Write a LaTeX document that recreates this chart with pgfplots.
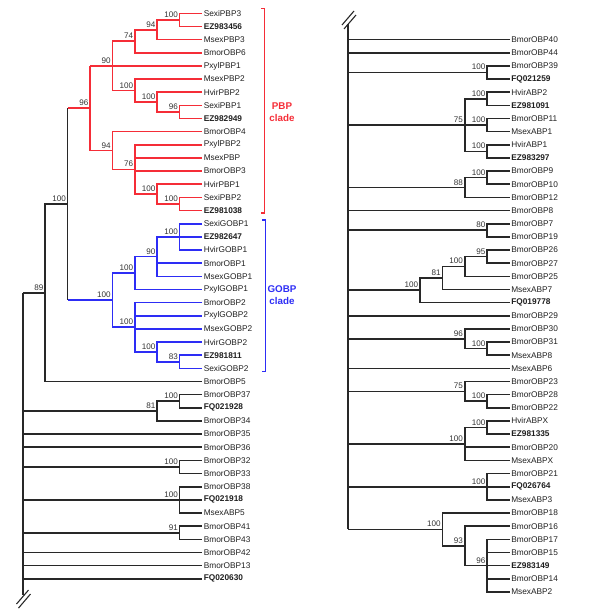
\documentclass[border=0pt]{standalone}
\usepackage{fontspec}
\setmainfont{Liberation Sans}
\usepackage{pgfplots}
\pgfplotsset{compat=1.18}
\definecolor{pbp}{RGB}{245,45,55}
\definecolor{gobp}{RGB}{45,45,245}
\definecolor{lk}{RGB}{40,40,40}
\tikzset{
  rd/.style={pbp, line width=1.6bp},
  bl/.style={gobp, line width=1.6bp},
  bk/.style={lk, line width=1.6bp},
  leaf/.style={anchor=west, inner sep=0pt, xshift=1.6bp, text=black!88, font=\fontsize{8.3bp}{9bp}\selectfont},
  sup/.style={anchor=south east, inner sep=0pt, xshift=-1.5bp, yshift=2.2bp, text=black!80, font=\fontsize{8.1bp}{9bp}\selectfont},
}
\newcommand{\lfL}[2]{\node[leaf] at (axis cs:202,#1) {#2};}
\newcommand{\lfR}[2]{\node[leaf] at (axis cs:509.5,#1) {#2};}
\newcommand{\bs}[3]{\node[sup] at (axis cs:#1,#2) {#3};}
\begin{document}
\begin{tikzpicture}
\begin{axis}[scale only axis, width=600bp, height=614bp,
  xmin=0, xmax=600, ymin=-0.0114, ymax=46.68, y dir=reverse,
  hide axis, clip=false, no markers]
\addplot[draw=none] coordinates {(0,-0.0114)(600,46.68)};
% ---------- PBP clade (red)
\addplot[rd] coordinates {(202,1)(179.6,1)(179.6,2)(202,2)};
\addplot[rd] coordinates {(179.6,1.5)(157.2,1.5)(157.2,3)(202,3)};
\addplot[rd] coordinates {(157.2,2.25)(134.8,2.25)(134.8,4)(202,4)};
\addplot[rd] coordinates {(134.8,3.125)(112.4,3.125)(112.4,6.875)(134.8,6.875)};
\addplot[rd] coordinates {(90,5)(202,5)};
\addplot[rd] coordinates {(202,8)(179.6,8)(179.6,9)(202,9)};
\addplot[rd] coordinates {(202,7)(157.2,7)(157.2,8.5)(179.6,8.5)};
\addplot[rd] coordinates {(202,6)(134.8,6)(134.8,7.75)(157.2,7.75)};
\addplot[rd] coordinates {(90,5)(90,11.4375)(112.4,11.4375)};
\addplot[rd] coordinates {(202,10)(112.4,10)(112.4,12.875)(134.8,12.875)};
\addplot[rd] coordinates {(202,11)(134.8,11)(134.8,14.75)(157.2,14.75)};
\addplot[rd] coordinates {(134.8,12)(202,12)};
\addplot[rd] coordinates {(134.8,13)(202,13)};
\addplot[rd] coordinates {(202,14)(157.2,14)(157.2,15.5)(179.6,15.5)};
\addplot[rd] coordinates {(202,15)(179.6,15)(179.6,16)(202,16)};
\addplot[rd] coordinates {(67.6,8.21875)(90,8.21875)};
% ---------- GOBP clade (blue)
\addplot[bl] coordinates {(202,17)(179.6,17)(179.6,19)(202,19)};
\addplot[bl] coordinates {(179.6,18)(202,18)};
\addplot[bl] coordinates {(179.6,18)(157.2,18)(157.2,21)(202,21)};
\addplot[bl] coordinates {(157.2,20)(202,20)};
\addplot[bl] coordinates {(157.2,19.5)(134.8,19.5)(134.8,22)(202,22)};
\addplot[bl] coordinates {(202,27)(179.6,27)(179.6,28)(202,28)};
\addplot[bl] coordinates {(202,26)(157.2,26)(157.2,27.5)(179.6,27.5)};
\addplot[bl] coordinates {(202,23)(134.8,23)(134.8,26.75)(157.2,26.75)};
\addplot[bl] coordinates {(134.8,24)(202,24)};
\addplot[bl] coordinates {(134.8,25)(202,25)};
\addplot[bl] coordinates {(134.8,20.75)(112.4,20.75)(112.4,24.875)(134.8,24.875)};
\addplot[bl] coordinates {(67.6,22.8125)(112.4,22.8125)};
% ---------- left black
\addplot[bk] coordinates {(67.6,8.21875)(67.6,22.8125)};
\addplot[bk] coordinates {(67.6,15.515625)(45.2,15.515625)(45.2,29)(202,29)};
\addplot[bk] coordinates {(22.8,22.2578)(22.8,45.24)};
\addplot[bk] coordinates {(22.8,22.2578)(45.2,22.2578)};
\addplot[bk] coordinates {(202,30)(179.6,30)(179.6,31)(202,31)};
\addplot[bk] coordinates {(179.6,30.5)(157.2,30.5)(157.2,32)(202,32)};
\addplot[bk] coordinates {(22.8,31.25)(157.2,31.25)};
\addplot[bk] coordinates {(22.8,33)(202,33)};
\addplot[bk] coordinates {(22.8,34)(202,34)};
\addplot[bk] coordinates {(202,35)(179.6,35)(179.6,36)(202,36)};
\addplot[bk] coordinates {(22.8,35.5)(179.6,35.5)};
\addplot[bk] coordinates {(202,37)(179.6,37)(179.6,39)(202,39)};
\addplot[bk] coordinates {(22.8,38)(202,38)};
\addplot[bk] coordinates {(202,40)(179.6,40)(179.6,41)(202,41)};
\addplot[bk] coordinates {(22.8,40.5)(179.6,40.5)};
\addplot[bk] coordinates {(22.8,42)(202,42)};
\addplot[bk] coordinates {(22.8,43)(202,43)};
\addplot[bk] coordinates {(22.8,44)(202,44)};
\addplot[bk, line width=1.1bp] coordinates {(16.5,45.92)(28.5,44.86)};
\addplot[bk, line width=1.1bp] coordinates {(18.5,46.23)(30.5,45.16)};
% brackets
\addplot[rd] coordinates {(261,0.62)(264.6,0.62)(264.6,16.19)(261,16.19)};
\addplot[bl] coordinates {(262,16.72)(265.6,16.72)(265.6,28.25)(262,28.25)};
% ---------- right tree
\addplot[bk] coordinates {(348,1.81)(348,40.25)};
\addplot[bk, line width=1.1bp] coordinates {(342,1.89)(354,0.825)};
\addplot[bk, line width=1.1bp] coordinates {(344,2.19)(356,1.13)};
\addplot[bk] coordinates {(348,3)(509.5,3)};
\addplot[bk] coordinates {(348,4)(509.5,4)};
\addplot[bk] coordinates {(509.5,5)(487.1,5)(487.1,6)(509.5,6)};
\addplot[bk] coordinates {(348,5.5)(487.1,5.5)};
\addplot[bk] coordinates {(509.5,7)(487.1,7)(487.1,8)(509.5,8)};
\addplot[bk] coordinates {(509.5,9)(487.1,9)(487.1,10)(509.5,10)};
\addplot[bk] coordinates {(509.5,11)(487.1,11)(487.1,12)(509.5,12)};
\addplot[bk] coordinates {(487.1,7.5)(464.7,7.5)(464.7,11.5)(487.1,11.5)};
\addplot[bk] coordinates {(348,9.5)(487.1,9.5)};
\addplot[bk] coordinates {(509.5,13)(487.1,13)(487.1,14)(509.5,14)};
\addplot[bk] coordinates {(487.1,13.5)(464.7,13.5)(464.7,15)(509.5,15)};
\addplot[bk] coordinates {(348,14.25)(464.7,14.25)};
\addplot[bk] coordinates {(348,16)(509.5,16)};
\addplot[bk] coordinates {(509.5,17)(487.1,17)(487.1,18)(509.5,18)};
\addplot[bk] coordinates {(348,17.5)(487.1,17.5)};
\addplot[bk] coordinates {(509.5,19)(487.1,19)(487.1,20)(509.5,20)};
\addplot[bk] coordinates {(487.1,19.5)(464.7,19.5)(464.7,21)(509.5,21)};
\addplot[bk] coordinates {(464.7,20.25)(442.3,20.25)(442.3,22)(509.5,22)};
\addplot[bk] coordinates {(442.3,21.125)(419.9,21.125)(419.9,23)(509.5,23)};
\addplot[bk] coordinates {(348,22.0625)(419.9,22.0625)};
\addplot[bk] coordinates {(348,24)(509.5,24)};
\addplot[bk] coordinates {(509.5,26)(487.1,26)(487.1,27)(509.5,27)};
\addplot[bk] coordinates {(509.5,25)(464.7,25)(464.7,26.5)(487.1,26.5)};
\addplot[bk] coordinates {(348,25.75)(464.7,25.75)};
\addplot[bk] coordinates {(348,28)(509.5,28)};
\addplot[bk] coordinates {(509.5,30)(487.1,30)(487.1,31)(509.5,31)};
\addplot[bk] coordinates {(509.5,29)(464.7,29)(464.7,30.5)(487.1,30.5)};
\addplot[bk] coordinates {(348,29.75)(464.7,29.75)};
\addplot[bk] coordinates {(509.5,32)(487.1,32)(487.1,33)(509.5,33)};
\addplot[bk] coordinates {(487.1,32.5)(464.7,32.5)(464.7,35)(509.5,35)};
\addplot[bk] coordinates {(464.7,34)(509.5,34)};
\addplot[bk] coordinates {(348,33.75)(464.7,33.75)};
\addplot[bk] coordinates {(509.5,36)(487.1,36)(487.1,38)(509.5,38)};
\addplot[bk] coordinates {(348,37)(509.5,37)};
\addplot[bk] coordinates {(509.5,41)(487.1,41)(487.1,45)(509.5,45)};
\addplot[bk] coordinates {(487.1,42)(509.5,42)};
\addplot[bk] coordinates {(487.1,43)(509.5,43)};
\addplot[bk] coordinates {(487.1,44)(509.5,44)};
\addplot[bk] coordinates {(509.5,40)(464.7,40)(464.7,43)(487.1,43)};
\addplot[bk] coordinates {(509.5,39)(442.3,39)(442.3,41.5)(464.7,41.5)};
\addplot[bk] coordinates {(348,40.25)(442.3,40.25)};
% ---------- left leaf labels
\lfL{1}{SexiPBP3}
\lfL{2}{\textbf{EZ983456}}
\lfL{3}{MsexPBP3}
\lfL{4}{BmorOBP6}
\lfL{5}{PxylPBP1}
\lfL{6}{MsexPBP2}
\lfL{7}{HvirPBP2}
\lfL{8}{SexiPBP1}
\lfL{9}{\textbf{EZ982949}}
\lfL{10}{BmorOBP4}
\lfL{11}{PxylPBP2}
\lfL{12}{MsexPBP}
\lfL{13}{BmorOBP3}
\lfL{14}{HvirPBP1}
\lfL{15}{SexiPBP2}
\lfL{16}{\textbf{EZ981038}}
\lfL{17}{SexiGOBP1}
\lfL{18}{\textbf{EZ982647}}
\lfL{19}{HvirGOBP1}
\lfL{20}{BmorOBP1}
\lfL{21}{MsexGOBP1}
\lfL{22}{PxylGOBP1}
\lfL{23}{BmorOBP2}
\lfL{24}{PxylGOBP2}
\lfL{25}{MsexGOBP2}
\lfL{26}{HvirGOBP2}
\lfL{27}{\textbf{EZ981811}}
\lfL{28}{SexiGOBP2}
\lfL{29}{BmorOBP5}
\lfL{30}{BmorOBP37}
\lfL{31}{\textbf{FQ021928}}
\lfL{32}{BmorOBP34}
\lfL{33}{BmorOBP35}
\lfL{34}{BmorOBP36}
\lfL{35}{BmorOBP32}
\lfL{36}{BmorOBP33}
\lfL{37}{BmorOBP38}
\lfL{38}{\textbf{FQ021918}}
\lfL{39}{MsexABP5}
\lfL{40}{BmorOBP41}
\lfL{41}{BmorOBP43}
\lfL{42}{BmorOBP42}
\lfL{43}{BmorOBP13}
\lfL{44}{\textbf{FQ020630}}
% ---------- right leaf labels
\lfR{3}{BmorOBP40}
\lfR{4}{BmorOBP44}
\lfR{5}{BmorOBP39}
\lfR{6}{\textbf{FQ021259}}
\lfR{7}{HvirABP2}
\lfR{8}{\textbf{EZ981091}}
\lfR{9}{BmorOBP11}
\lfR{10}{MsexABP1}
\lfR{11}{HvirABP1}
\lfR{12}{\textbf{EZ983297}}
\lfR{13}{BmorOBP9}
\lfR{14}{BmorOBP10}
\lfR{15}{BmorOBP12}
\lfR{16}{BmorOBP8}
\lfR{17}{BmorOBP7}
\lfR{18}{BmorOBP19}
\lfR{19}{BmorOBP26}
\lfR{20}{BmorOBP27}
\lfR{21}{BmorOBP25}
\lfR{22}{MsexABP7}
\lfR{23}{\textbf{FQ019778}}
\lfR{24}{BmorOBP29}
\lfR{25}{BmorOBP30}
\lfR{26}{BmorOBP31}
\lfR{27}{MsexABP8}
\lfR{28}{MsexABP6}
\lfR{29}{BmorOBP23}
\lfR{30}{BmorOBP28}
\lfR{31}{BmorOBP22}
\lfR{32}{HvirABPX}
\lfR{33}{\textbf{EZ981335}}
\lfR{34}{BmorOBP20}
\lfR{35}{MsexABPX}
\lfR{36}{BmorOBP21}
\lfR{37}{\textbf{FQ026764}}
\lfR{38}{MsexABP3}
\lfR{39}{BmorOBP18}
\lfR{40}{BmorOBP16}
\lfR{41}{BmorOBP17}
\lfR{42}{BmorOBP15}
\lfR{43}{\textbf{EZ983149}}
\lfR{44}{BmorOBP14}
\lfR{45}{MsexABP2}
% ---------- support values left
\bs{179.6}{1.5}{100}
\bs{157.2}{2.25}{94}
\bs{134.8}{3.125}{74}
\bs{112.4}{5}{90}
\bs{134.8}{6.875}{100}
\bs{157.2}{7.75}{100}
\bs{179.6}{8.5}{96}
\bs{90}{8.21875}{96}
\bs{112.4}{11.4375}{94}
\bs{134.8}{12.875}{76}
\bs{157.2}{14.75}{100}
\bs{179.6}{15.5}{100}
\bs{67.6}{15.515625}{100}
\bs{179.6}{18}{100}
\bs{157.2}{19.5}{90}
\bs{134.8}{20.75}{100}
\bs{112.4}{22.8125}{100}
\bs{134.8}{24.875}{100}
\bs{157.2}{26.75}{100}
\bs{179.6}{27.5}{83}
\bs{45.2}{22.2578}{89}
\bs{179.6}{30.5}{100}
\bs{157.2}{31.25}{81}
\bs{179.6}{35.5}{100}
\bs{179.6}{38}{100}
\bs{179.6}{40.5}{91}
% ---------- support values right
\bs{487.1}{5.5}{100}
\bs{487.1}{7.5}{100}
\bs{487.1}{9.5}{100}
\bs{487.1}{11.5}{100}
\bs{464.7}{9.5}{75}
\bs{487.1}{13.5}{100}
\bs{464.7}{14.25}{88}
\bs{487.1}{17.5}{80}
\bs{487.1}{19.5}{95}
\bs{464.7}{20.25}{100}
\bs{442.3}{21.125}{81}
\bs{419.9}{22.0625}{100}
\bs{464.7}{25.75}{96}
\bs{487.1}{26.5}{100}
\bs{464.7}{29.75}{75}
\bs{487.1}{30.5}{100}
\bs{487.1}{32.5}{100}
\bs{464.7}{33.75}{100}
\bs{487.1}{37}{100}
\bs{442.3}{40.25}{100}
\bs{464.7}{41.5}{93}
\bs{487.1}{43}{96}
% ---------- clade labels
\node[pbp, align=center, font=\bfseries\fontsize{9.8bp}{11.5bp}\selectfont, inner sep=0pt] at (axis cs:282,8.5) {PBP\\clade};
\node[gobp, align=center, font=\bfseries\fontsize{9.8bp}{11.5bp}\selectfont, inner sep=0pt] at (axis cs:282,22.45) {GOBP\\clade};
\end{axis}
\end{tikzpicture}
\end{document}
